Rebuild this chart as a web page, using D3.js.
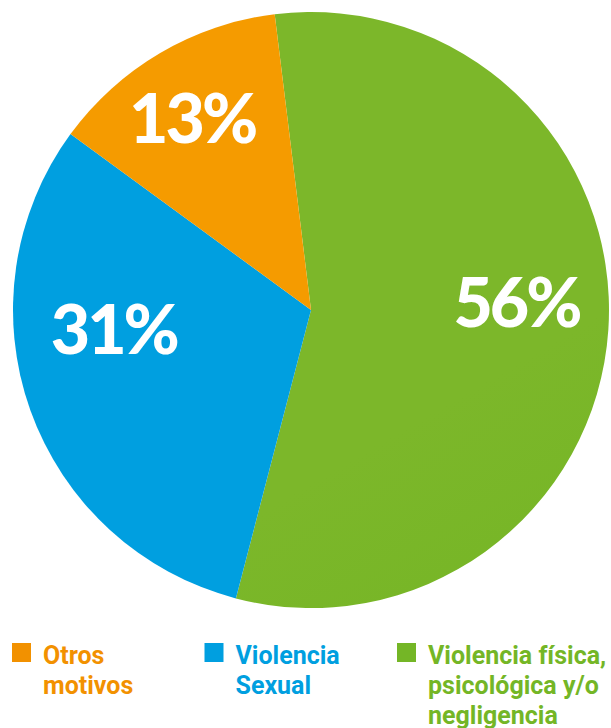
<!DOCTYPE html>
<html>
<head>
<meta charset="utf-8">
<script src="https://cdn.jsdelivr.net/npm/d3@7"></script>
<style>
  html, body { margin: 0; padding: 0; background: #fff; }
  svg { display: block; }
</style>
</head>
<body>
<div id="chart"></div>
<script>
// data
const categories = ["Violencia física, psicológica y/o negligencia", "Violencia Sexual", "Otros motivos"];
const values = [56, 31, 13];
const legendOrder = [2, 1, 0];
const legendLines = [
  ["Violencia física,", "psicológica y/o", "negligencia"],
  ["Violencia", "Sexual"],
  ["Otros", "motivos"]
];
const colors = ["#74b626", "#009fe0", "#f29100"];

const width = 611, height = 728;
const cx = 311, cy = 310, r = 298;

const svg = d3.select("#chart").append("svg")
  .attr("width", width)
  .attr("height", height);

// soft gradients like the original
const defs = svg.append("defs");
const gGreen = defs.append("linearGradient").attr("id", "gGreen")
  .attr("gradientUnits", "userSpaceOnUse")
  .attr("x1", 280).attr("y1", 10).attr("x2", 600).attr("y2", 560);
gGreen.append("stop").attr("offset", 0).attr("stop-color", "#7cb72a");
gGreen.append("stop").attr("offset", 1).attr("stop-color", "#6ab31e");
const gOrange = defs.append("linearGradient").attr("id", "gOrange")
  .attr("gradientUnits", "userSpaceOnUse")
  .attr("x1", 70).attr("y1", 100).attr("x2", 310).attr("y2", 100);
gOrange.append("stop").attr("offset", 0).attr("stop-color", "#f59b00");
gOrange.append("stop").attr("offset", 1).attr("stop-color", "#ef8b00");
const fills = ["url(#gGreen)", colors[1], "url(#gOrange)"];

const offset = -7 * Math.PI / 180;
const pie = d3.pie().sort(null)
  .startAngle(offset).endAngle(offset + 2 * Math.PI)
  .value(d => d);
const arcs = pie(values);
const arc = d3.arc().innerRadius(0).outerRadius(r);

const g = svg.append("g").attr("transform", `translate(${cx},${cy})`);

g.selectAll("path")
  .data(arcs)
  .join("path")
  .attr("d", arc)
  .attr("fill", (d, i) => fills[i]);

// percentage labels: radius fraction and angle shift (deg) from slice middle
const labelRadius = [0.69, 0.665, 0.755];
const labelShift = [-6, 14, -1.5];
g.selectAll("text.pct")
  .data(arcs)
  .join("text")
  .attr("class", "pct")
  .attr("transform", (d, i) => {
    const a = (d.startAngle + d.endAngle) / 2 + labelShift[i] * Math.PI / 180;
    const rr = r * labelRadius[i];
    return `translate(${Math.sin(a) * rr},${-Math.cos(a) * rr})`;
  })
  .attr("text-anchor", "middle")
  .attr("dy", "0.36em")
  .attr("fill", "#fff")
  .style("font-family", "Lato, 'Open Sans', sans-serif")
  .style("font-weight", 900)
  .style("font-size", "68px")
  .style("letter-spacing", "-3px")
  .text(d => d.data + "%");

// legend
const legendX = d3.scalePoint().domain(legendOrder).range([12, 397]);
const leg = svg.append("g").selectAll("g")
  .data(legendOrder)
  .join("g")
  .attr("transform", i => `translate(${legendX(i)},643)`);

leg.append("rect")
  .attr("width", 19).attr("height", 19)
  .attr("fill", i => colors[i]);

leg.append("text")
  .attr("x", 31)
  .attr("y", 21)
  .attr("fill", i => colors[i])
  .style("font-family", "Roboto, sans-serif")
  .style("font-weight", 700)
  .style("font-size", "25px")
  .selectAll("tspan")
  .data(i => legendLines[i])
  .join("tspan")
  .attr("x", 31)
  .attr("dy", (d, j) => j === 0 ? 0 : 30)
  .text(d => d);
</script>
</body>
</html>
